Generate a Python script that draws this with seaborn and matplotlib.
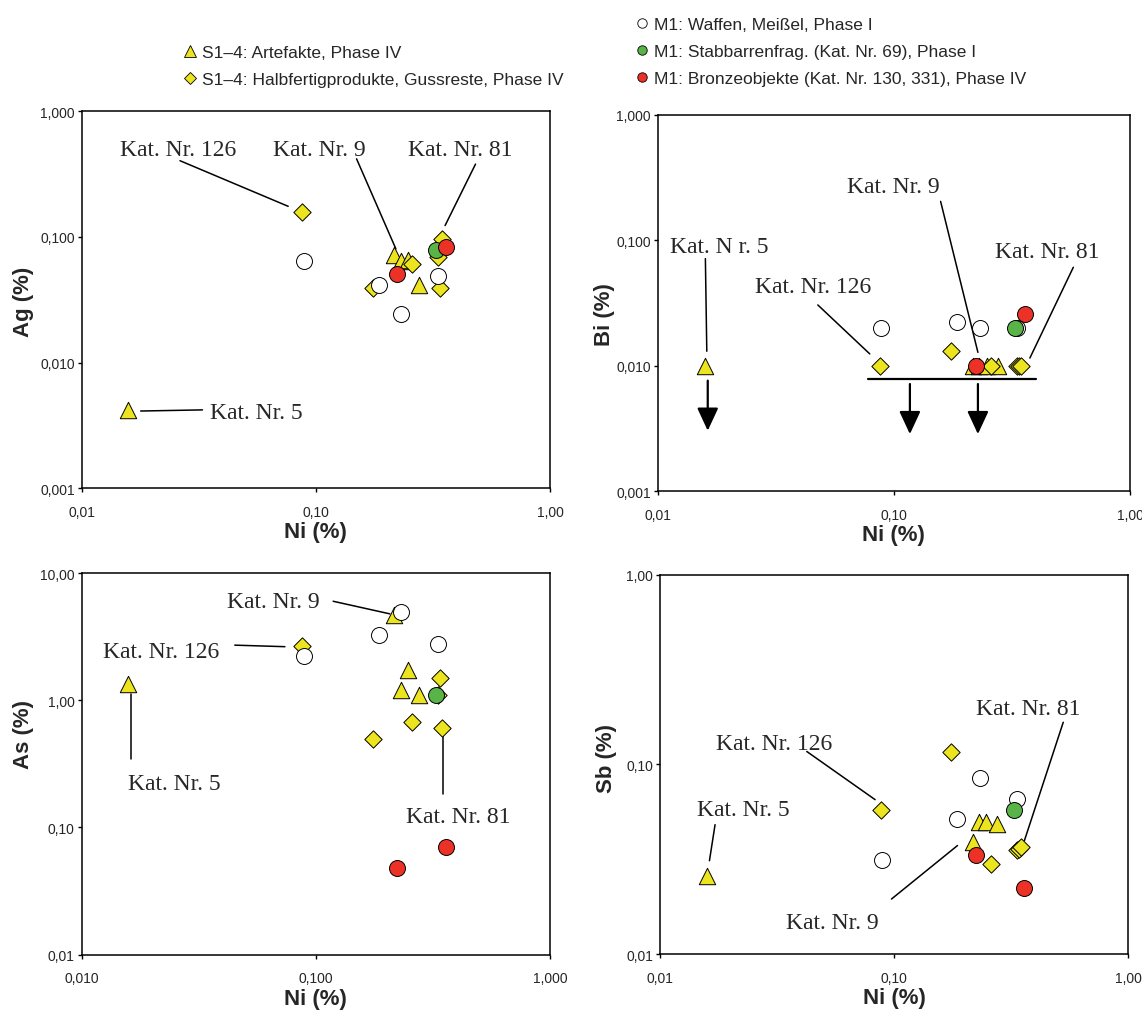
import pandas as pd
import seaborn as sns
import matplotlib.pyplot as plt
from matplotlib.lines import Line2D
from matplotlib.ticker import FixedLocator, FixedFormatter, NullLocator

# Ni and trace elements (%) per sample group
ni_artefakte = [0.0158, 0.216, 0.230, 0.247, 0.275]
ag_artefakte = [0.0042, 0.072, 0.0648, 0.066, 0.0415]
bi_artefakte = [0.010, 0.010, 0.010, 0.010, 0.010]
as_artefakte = [1.33, 4.68, 1.21, 1.72, 1.10]
sb_artefakte = [0.0257, 0.039, 0.0495, 0.0495, 0.0485]

ni_halbfertig = [0.0875, 0.175, 0.258, 0.333, 0.340, 0.347]
ag_halbfertig = [0.157, 0.039, 0.0607, 0.069, 0.0394, 0.0964]
bi_halbfertig = [0.010, 0.0132, 0.010, 0.010, 0.010, 0.010]
as_halbfertig = [2.65, 0.498, 0.68, 1.10, 1.49, 0.608]
sb_halbfertig = [0.0577, 0.116, 0.0298, 0.0355, 0.0358, 0.0368]

ni_waffen = [0.0886, 0.186, 0.232, 0.333]
ag_waffen = [0.0644, 0.0415, 0.0244, 0.049]
bi_waffen = [0.020, 0.0224, 0.020, 0.020]
as_waffen = [2.21, 3.25, 4.91, 2.75]
sb_waffen = [0.0313, 0.0515, 0.085, 0.0657]

ni_stabbarren = [0.326]
ag_stabbarren = [0.079]
bi_stabbarren = [0.020]
as_stabbarren = [1.10]
sb_stabbarren = [0.0577]

ni_bronze = [0.223, 0.359]
ag_bronze = [0.051, 0.083]
bi_bronze = [0.010, 0.0258]
as_bronze = [0.0477, 0.070]
sb_bronze = [0.0333, 0.0222]

group_labels = [
    "S1\u20134: Artefakte, Phase IV",
    "S1\u20134: Halbfertigprodukte, Gussreste, Phase IV",
    "M1: Waffen, Mei\u00dfel, Phase I",
    "M1: Stabbarrenfrag. (Kat. Nr. 69), Phase I",
    "M1: Bronzeobjekte (Kat. Nr. 130, 331), Phase IV",
]

# tick labels
ticks_3dec = [0.001, 0.01, 0.1, 1.0]
labels_3dec = ["0,001", "0,010", "0,100", "1,000"]
ticks_as = [0.01, 0.1, 1.0, 10.0]
labels_as = ["0,01", "0,10", "1,00", "10,00"]
ticks_2dec = [0.01, 0.1, 1.0]
labels_2dec = ["0,01", "0,10", "1,00"]
labels_ni_3 = ["0,010", "0,100", "1,000"]

YELLOW = "#ECE41E"
GREEN = "#58B447"
RED = "#EC3126"

styles = {
    group_labels[0]: dict(marker="^", color=YELLOW, s=140),
    group_labels[1]: dict(marker="D", color=YELLOW, s=78),
    group_labels[2]: dict(marker="o", color="white", s=132),
    group_labels[3]: dict(marker="o", color=GREEN, s=132),
    group_labels[4]: dict(marker="o", color=RED, s=132),
}

frames = []
for lab, ni, ag, bi, as_, sb in [
    (group_labels[0], ni_artefakte, ag_artefakte, bi_artefakte, as_artefakte, sb_artefakte),
    (group_labels[1], ni_halbfertig, ag_halbfertig, bi_halbfertig, as_halbfertig, sb_halbfertig),
    (group_labels[2], ni_waffen, ag_waffen, bi_waffen, as_waffen, sb_waffen),
    (group_labels[3], ni_stabbarren, ag_stabbarren, bi_stabbarren, as_stabbarren, sb_stabbarren),
    (group_labels[4], ni_bronze, ag_bronze, bi_bronze, as_bronze, sb_bronze),
]:
    frames.append(pd.DataFrame({"group": lab, "Ni": ni, "Ag": ag, "Bi": bi, "As": as_, "Sb": sb}))
df = pd.concat(frames, ignore_index=True)

# label annotations (axes fraction): text, text x, text baseline y, leader line start, end
notes_ag = [
    ("Kat. Nr. 126", 0.206, 0.884, (0.210, 0.869), (0.441, 0.748)),
    ("Kat. Nr. 9", 0.507, 0.884, (0.587, 0.874), (0.671, 0.635)),
    ("Kat. Nr. 81", 0.808, 0.884, (0.841, 0.860), (0.776, 0.697)),
    ("Kat. Nr. 5", 0.374, 0.186, (0.126, 0.205), (0.258, 0.208)),
]
notes_bi = [
    ("Kat. N r. 5", 0.130, 0.636, (0.101, 0.618), (0.104, 0.372)),
    ("Kat. Nr. 126", 0.329, 0.529, (0.339, 0.495), (0.449, 0.365)),
    ("Kat. Nr. 9", 0.498, 0.795, (0.599, 0.770), (0.678, 0.369)),
    ("Kat. Nr. 81", 0.824, 0.621, (0.880, 0.595), (0.788, 0.354)),
]
notes_as = [
    ("Kat. Nr. 9", 0.409, 0.911, (0.537, 0.926), (0.658, 0.893)),
    ("Kat. Nr. 126", 0.170, 0.779, (0.327, 0.811), (0.434, 0.807)),
    ("Kat. Nr. 5", 0.198, 0.435, (0.105, 0.683), (0.105, 0.513)),
    ("Kat. Nr. 81", 0.805, 0.348, (0.771, 0.574), (0.771, 0.421)),
]
notes_sb = [
    ("Kat. Nr. 81", 0.786, 0.634, (0.861, 0.611), (0.778, 0.299)),
    ("Kat. Nr. 126", 0.243, 0.540, (0.313, 0.534), (0.459, 0.407)),
    ("Kat. Nr. 5", 0.177, 0.367, (0.117, 0.341), (0.105, 0.246)),
    ("Kat. Nr. 9", 0.368, 0.069, (0.494, 0.145), (0.635, 0.286)),
]
# detection limit marks in the Bi plot (axes fraction)
bi_limit_line = ((0.446, 0.298), (0.802, 0.298))
bi_arrows = [(0.106, 0.294, 0.161), (0.534, 0.285, 0.152), (0.678, 0.285, 0.152)]

sns.set_style("white")
plt.rcParams["font.family"] = ["Liberation Sans", "DejaVu Sans"]

fig = plt.figure(figsize=(11.42, 10.12), dpi=100)

panels = [
    dict(elem="Ag", rect=[0.0715, 0.5165, 0.4101, 0.3725], ylim=(0.001, 1.0), yt=ticks_3dec,
         yl=labels_3dec, xl=labels_2dec, ylab=(-0.125, 0.498), notes=notes_ag),
    dict(elem="Bi", rect=[0.5759, 0.5135, 0.4136, 0.3721], ylim=(0.001, 1.0), yt=ticks_3dec,
         yl=labels_3dec, xl=labels_2dec, ylab=(-0.112, 0.471), notes=notes_bi),
    dict(elem="As", rect=[0.0715, 0.0556, 0.4101, 0.3772], ylim=(0.01, 10.0), yt=ticks_as,
         yl=labels_as, xl=labels_ni_3, ylab=(-0.125, 0.58), notes=notes_as),
    dict(elem="Sb", rect=[0.5782, 0.0563, 0.4098, 0.3748], ylim=(0.01, 1.0), yt=ticks_2dec,
         yl=labels_2dec, xl=labels_2dec, ylab=(-0.1145, 0.519), notes=notes_sb),
]

for p in panels:
    ax = fig.add_axes(p["rect"])
    ax.set_xscale("log")
    ax.set_yscale("log")
    for i, g in enumerate(group_labels):
        st = styles[g]
        sns.scatterplot(data=df[df["group"] == g], x="Ni", y=p["elem"], marker=st["marker"],
                        color=st["color"], s=st["s"], edgecolor="black", linewidth=0.7,
                        ax=ax, legend=False, zorder=3 + i)
    ax.set_xlim(0.01, 1.0)
    ax.set_ylim(*p["ylim"])
    ax.xaxis.set_major_locator(FixedLocator(ticks_2dec))
    ax.xaxis.set_major_formatter(FixedFormatter(p["xl"]))
    ax.yaxis.set_major_locator(FixedLocator(p["yt"]))
    ax.yaxis.set_major_formatter(FixedFormatter(p["yl"]))
    ax.xaxis.set_minor_locator(NullLocator())
    ax.yaxis.set_minor_locator(NullLocator())
    ax.tick_params(axis="both", which="major", direction="out", length=3, width=1,
                   color="black", labelsize=10, bottom=True, left=True)
    ax.tick_params(axis="x", pad=9)
    ax.tick_params(axis="y", pad=2)
    for sp in ax.spines.values():
        sp.set_visible(True)
        sp.set_color("black")
        sp.set_linewidth(1.1)
    ax.set_xlabel("Ni (%)", fontsize=16, fontweight="bold", va="center", ha="center")
    ax.xaxis.set_label_coords(0.5, -0.114)
    ax.set_ylabel(f"{p['elem']} (%)", fontsize=16, fontweight="bold", va="center", ha="center")
    ax.yaxis.set_label_coords(*p["ylab"])

    for txt, tx, ty, a, b in p["notes"]:
        ax.text(tx, ty, txt, transform=ax.transAxes, ha="center", va="baseline",
                fontsize=17, family=["Liberation Serif", "DejaVu Serif"], zorder=10)
        ax.plot([a[0], b[0]], [a[1], b[1]], transform=ax.transAxes, color="black",
                lw=1.1, zorder=2, clip_on=False)

    if p["elem"] == "Bi":
        (x0, y0), (x1, y1) = bi_limit_line
        ax.plot([x0, x1], [y0, y1], transform=ax.transAxes, color="black", lw=1.6, zorder=2)
        for xa, ys, ye in bi_arrows:
            ax.annotate("", xy=(xa, ye), xytext=(xa, ys), xycoords="axes fraction",
                        textcoords="axes fraction",
                        arrowprops=dict(arrowstyle="-|>,head_length=1.4,head_width=0.65",
                                        color="black", lw=1.6, shrinkA=0, shrinkB=0))

def handle(g, size):
    st = styles[g]
    return Line2D([], [], marker=st["marker"], linestyle="None", markerfacecolor=st["color"],
                  markeredgecolor="black", markeredgewidth=0.6, markersize=size)

leg_kw = dict(loc="upper left", frameon=False, fontsize=12.5, handlelength=0.7,
              handletextpad=0.35, borderpad=0, borderaxespad=0, labelspacing=0.69)
leg1 = fig.legend([handle(group_labels[0], 8.5), handle(group_labels[1], 6.5)],
                  group_labels[:2], bbox_to_anchor=(0.1613, 0.955), **leg_kw)
leg2 = fig.legend([handle(group_labels[2], 6.8), handle(group_labels[3], 6.8),
                   handle(group_labels[4], 6.8)],
                  group_labels[2:], bbox_to_anchor=(0.557, 0.9827), **leg_kw)

fig.savefig("out.png", dpi=100)
